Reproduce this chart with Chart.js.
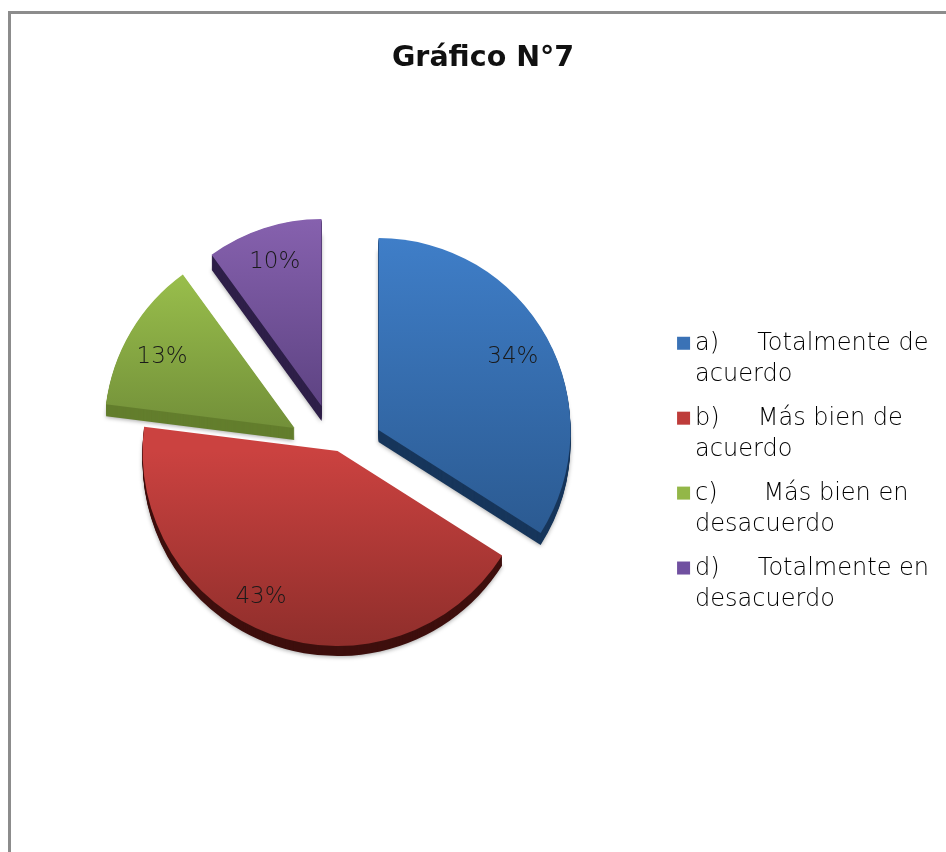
<!DOCTYPE html>
<html>
<head>
<meta charset="utf-8">
<style>
html,body{margin:0;padding:0;background:#fff;overflow:hidden;width:946px;height:852px}
#frame{position:absolute;left:8px;top:11px;width:960px;height:860px;border-left:3px solid #8c8c8c;border-top:3px solid #8c8c8c}
canvas{position:absolute;left:0;top:0}
</style>
<script src="https://cdn.jsdelivr.net/npm/chart.js@4"></script>
</head>
<body>
<div id="frame"></div>
<canvas id="c" width="946" height="852" style="width:946px;height:852px"></canvas>
<script>
const titleText = 'Gráfico N°7';
const categories = [
  ['a)     Totalmente de', 'acuerdo'],
  ['b)     Más bien de', 'acuerdo'],
  ['c)      Más bien en', 'desacuerdo'],
  ['d)     Totalmente en', 'desacuerdo']
];
const values = [34, 43, 13, 10];

const gradientTop = ['#3F7EC8', '#CB4240', '#A2C950', '#8661AE'];
const gradientBottom = ['#2B5A91', '#8F2E2B', '#708D38', '#5C4281'];
const sideColors = ['#17365B', '#3E0F0D', '#637E2D', '#2E1F48'];
const legendColors = ['#3A72B6', '#BE3C3A', '#93B748', '#7050A0'];
const sliceShiftX = [33, -8, -51, -24];
const sliceShiftY = [-45, -24, -47, -69];
const sliceRadius = [192, 195, 190, 187];
const sideDepth = [12, 10, 12, 15];
const labelNudgeX = [-2, -23, 0, 0];
const labelNudgeY = [2, -3, 7, 0];
const lightFamily = '"DejaVu Sans Light","DejaVu Sans"';
const labelFont = '23px ' + lightFamily;

function sliceGradient(ctx) {
  const chart = ctx.chart;
  if (!chart.chartArea || ctx.dataIndex === undefined) return gradientTop[0];
  const cy = (chart.chartArea.top + chart.chartArea.bottom) / 2;
  const i = ctx.dataIndex;
  const top = cy + sliceShiftY[i] - sliceRadius[i] * (i === 1 ? 0 : 1);
  const bottom = cy + sliceShiftY[i] + sliceRadius[i] * (i === 1 ? 1 : i === 0 ? 0.55 : 0.05);
  const g = chart.ctx.createLinearGradient(0, top, 0, bottom);
  g.addColorStop(0, gradientTop[i]);
  g.addColorStop(1, gradientBottom[i]);
  return g;
}

const explodePlugin = {
  id: 'explode',
  afterDatasetsUpdate(chart) {
    const a = chart.chartArea;
    const cx = (a.left + a.right) / 2, cy = (a.top + a.bottom) / 2;
    chart.getDatasetMeta(0).data.forEach((arc, i) => {
      arc.x = cx + sliceShiftX[i];
      arc.y = cy + sliceShiftY[i];
      arc.outerRadius = sliceRadius[i];
    });
  },
  beforeDatasetsDraw(chart) {
    const c = chart.ctx;
    chart.getDatasetMeta(0).data.forEach((arc, i) => {
      c.save();
      for (let d = sideDepth[i]; d >= 1; d--) {
        if (d === sideDepth[i]) {
          c.shadowColor = 'rgba(0,0,0,0.35)';
          c.shadowBlur = 4;
          c.shadowOffsetY = 1;
        } else {
          c.shadowColor = 'transparent';
        }
        c.fillStyle = sideColors[i];
        c.beginPath();
        c.moveTo(arc.x, arc.y + d);
        c.arc(arc.x, arc.y + d, arc.outerRadius, arc.startAngle, arc.endAngle);
        c.closePath();
        c.fill();
      }
      c.restore();
    });
  },
  afterDatasetsDraw(chart) {
    const c = chart.ctx;
    c.save();
    c.font = labelFont;
    c.fillStyle = '#1a1a1a';
    c.textAlign = 'center';
    c.textBaseline = 'middle';
    chart.getDatasetMeta(0).data.forEach((arc, i) => {
      const mid = (arc.startAngle + arc.endAngle) / 2;
      const r = arc.outerRadius * 0.81;
      c.fillText(values[i] + '%',
        arc.x + Math.cos(mid) * r + labelNudgeX[i],
        arc.y + Math.sin(mid) * r + labelNudgeY[i]);
    });
    c.restore();
  },
  afterDraw(chart) {
    const c = chart.ctx;
    c.save();
    chart.legend.legendHitBoxes.forEach((hit, i) => {
      c.fillStyle = legendColors[i];
      c.fillRect(hit.left, hit.top + 5, 13, 13);
    });
    c.restore();
  }
};

new Chart(document.getElementById('c'), {
  type: 'pie',
  data: {
    labels: categories,
    datasets: [{
      data: values,
      backgroundColor: sliceGradient,
      borderWidth: 0
    }]
  },
  plugins: [explodePlugin],
  options: {
    responsive: false,
    animation: false,
    events: [],
    radius: 190,
    layout: { padding: { left: 27, right: 7 } },
    plugins: {
      tooltip: { enabled: false },
      title: {
        display: true,
        text: titleText,
        color: '#111',
        font: { family: '"DejaVu Sans"', size: 28.5, weight: 'bold', lineHeight: 1.2 },
        padding: { top: 41, bottom: 23 }
      },
      legend: {
        position: 'right',
        fullSize: false,
        labels: {
          boxWidth: 6,
          boxHeight: 13,
          padding: 13,
          color: '#2a2a2a',
          font: { family: lightFamily, size: 24, lineHeight: 1.29 },
          generateLabels(chart) {
            return categories.map((text, i) => ({
              text,
              fillStyle: 'rgba(0,0,0,0)',
              strokeStyle: 'rgba(0,0,0,0)',
              lineWidth: 0,
              index: i,
              hidden: false
            }));
          }
        }
      }
    }
  }
});
</script>
</body>
</html>
